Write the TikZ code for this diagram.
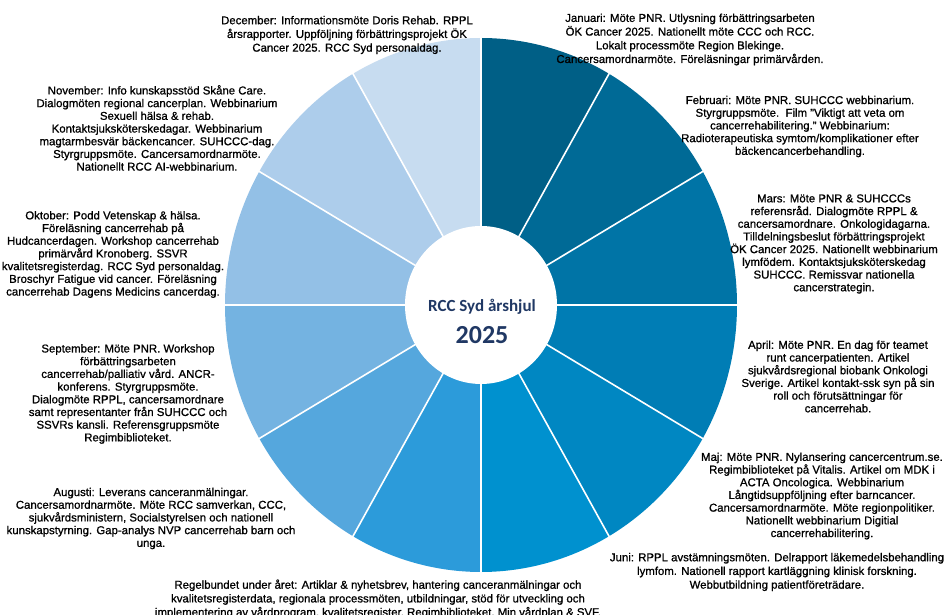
\documentclass[tikz,border=0pt]{standalone}
\usepackage{fontspec}
\setmainfont[FakeBold=0.9]{Liberation Sans}
\newfontfamily\titlefont{Carlito}
\definecolor{c1}{HTML}{005F86}
\definecolor{c2}{HTML}{006A96}
\definecolor{c3}{HTML}{0074A6}
\definecolor{c4}{HTML}{007DB5}
\definecolor{c5}{HTML}{0087C2}
\definecolor{c6}{HTML}{0091CF}
\definecolor{c7}{HTML}{2C9BDA}
\definecolor{c8}{HTML}{55A7DD}
\definecolor{c9}{HTML}{74B3E1}
\definecolor{c10}{HTML}{93C0E6}
\definecolor{c11}{HTML}{ADCDEB}
\definecolor{c12}{HTML}{C7DCF0}
\definecolor{titleblue}{HTML}{203864}
\tikzset{
  monthtext/.style={align=center, text=black, inner sep=0pt, font=\fontsize{11.4}{12.7}\selectfont},
  widetext/.style={align=center, text=black, inner sep=0pt, font=\fontsize{11.4}{13.7}\selectfont},
}
\begin{document}
\begin{tikzpicture}[x=1pt,y=1pt]
\useasboundingbox (0,0) rectangle (948,615);
\fill[white] (0,0) rectangle (948,615);
\coordinate (C) at (481,310);
% slices, clockwise from top
\foreach \i/\col in {1/c1,2/c2,3/c3,4/c4,5/c5,6/c6,7/c7,8/c8,9/c9,10/c10,11/c11,12/c12}{
  \pgfmathsetmacro{\aa}{90-30*(\i-1)}
  \pgfmathsetmacro{\ab}{90-30*\i}
  \fill[\col] (C) -- ++({256*cos(\aa)},{267*sin(\aa)})
    arc[start angle=\aa, end angle=\ab, x radius=256pt, y radius=267pt] -- cycle;
}
\foreach \a in {90,60,...,-240}{
  \draw[white, line width=1.6pt] (C) -- ++({257*cos(\a)},{268*sin(\a)});
}
\fill[white] (C) ellipse[x radius=76pt, y radius=79pt];
\node[text=titleblue, font=\titlefont\fontsize{17}{19}\selectfont\bfseries] (title) at (482,308) {RCC Syd årshjul};
\node[text=titleblue, font=\titlefont\fontsize{26}{28}\selectfont\bfseries] (year) at (482,280) {2025};

\node[widetext] (dec) at (347,580) {December: Informationsmöte Doris Rehab. RPPL\\årsrapporter. Uppföljning förbättringsprojekt ÖK\\Cancer 2025. RCC Syd personaldag.};
\node[widetext] (jan) at (690,575.5) {Januari: Möte PNR. Utlysning förbättringsarbeten\\ÖK Cancer 2025. Nationellt möte CCC och RCC.\\Lokalt processmöte Region Blekinge.\\Cancersamordnarmöte. Föreläsningar primärvården.};
\node[monthtext] (feb) at (800,488.5) {Februari: Möte PNR. SUHCCC webbinarium.\\Styrgruppsmöte.\ \ Film "Viktigt att veta om\\cancerrehabilitering." Webbinarium:\\Radioterapeutiska symtom/komplikationer efter\\bäckencancerbehandling.};
\node[monthtext] (mar) at (834,371) {Mars: Möte PNR \& SUHCCCs\\referensråd. Dialogmöte RPPL \&\\cancersamordnare. Onkologidagarna.\\Tilldelningsbeslut förbättringsprojekt\\ÖK Cancer 2025. Nationellt webbinarium\\lymfödem. Kontaktsjuksköterskedag\\SUHCCC. Remissvar nationella\\cancerstrategin.};
\node[monthtext] (apr) at (838,238.5) {April: Möte PNR. En dag för teamet\\runt cancerpatienten. Artikel\\sjukvårdsregional biobank Onkologi\\Sverige. Artikel kontakt-ssk syn på sin\\roll och förutsättningar för\\cancerrehab.};
\node[monthtext] (maj) at (822,119) {Maj: Möte PNR. Nylansering cancercentrum.se.\\Regimbiblioteket på Vitalis. Artikel om MDK i\\ACTA Oncologica. Webbinarium\\Långtidsuppföljning efter barncancer.\\Cancersamordnarmöte. Möte regionpolitiker.\\Nationellt webbinarium Digitial\\cancerrehabilitering.};
\node[widetext] (jun) at (777,43) {Juni: RPPL avstämningsmöten. Delrapport läkemedelsbehandling\\lymfom. Nationell rapport kartläggning klinisk forskning.\\Webbutbildning patientföreträdare.};
\node[widetext] (reg) at (378,16) {Regelbundet under året: Artiklar \& nyhetsbrev, hantering canceranmälningar och\\kvalitetsregisterdata, regionala processmöten, utbildningar, stöd för utveckling och\\implementering av vårdprogram, kvalitetsregister, Regimbiblioteket, Min vårdplan \& SVF.};
\node[monthtext] (aug) at (151,96.5) {Augusti: Leverans canceranmälningar.\\Cancersamordnarmöte. Möte RCC samverkan, CCC,\\sjukvårdsministern, Socialstyrelsen och nationell\\kunskapstyrning. Gap-analys NVP cancerrehab barn och\\unga.};
\node[monthtext] (sep) at (128,221) {September: Möte PNR. Workshop\\förbättringsarbeten\\cancerrehab/palliativ vård. ANCR-\\konferens. Styrgruppsmöte.\\Dialogmöte RPPL, cancersamordnare\\samt representanter från SUHCCC och\\SSVRs kansli. Referensgruppsmöte\\Regimbiblioteket.};
\node[monthtext] (okt) at (113,360.5) {Oktober: Podd Vetenskap \& hälsa.\\Föreläsning cancerrehab på\\Hudcancerdagen. Workshop cancerrehab\\primärvård Kronoberg. SSVR\\kvalitetsregisterdag. RCC Syd personaldag.\\Broschyr Fatigue vid cancer. Föreläsning\\cancerrehab Dagens Medicins cancerdag.};
\node[monthtext] (nov) at (157,487) {November: Info kunskapsstöd Skåne Care.\\Dialogmöten regional cancerplan. Webbinarium\\Sexuell hälsa \& rehab.\\Kontaktsjuksköterskedagar. Webbinarium\\magtarmbesvär bäckencancer. SUHCCC-dag.\\Styrgruppsmöte. Cancersamordnarmöte.\\Nationellt RCC AI-webbinarium.};
\end{tikzpicture}
\end{document}
